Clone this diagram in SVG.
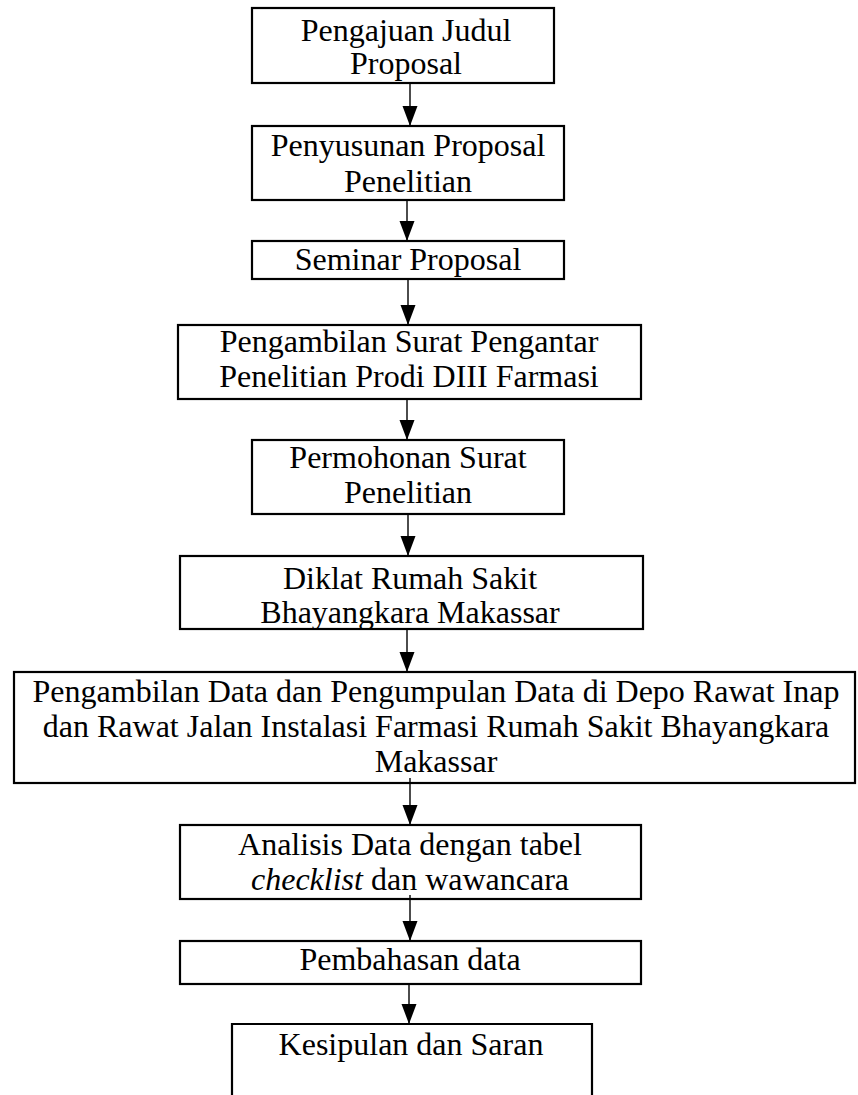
<svg xmlns="http://www.w3.org/2000/svg" width="858" height="1095" viewBox="0 0 858 1095">
<defs>
<style>
.box{fill:#fff;stroke:#000;stroke-width:2.2}
.t{font-family:"Liberation Serif","Times New Roman",serif;font-size:32px;fill:#000;text-anchor:middle}
.c{stroke:#000;stroke-width:1.4;fill:none;marker-end:url(#ah)}
</style>
<marker id="ah" markerUnits="userSpaceOnUse" markerWidth="20" markerHeight="16" refX="20" refY="7.5" orient="auto" viewBox="0 0 20 15">
<path d="M0,0 L20,7.5 L0,15 Z" fill="#000"/>
</marker>
</defs>
<rect width="858" height="1095" fill="#fff"/>
<g id="n1"><rect class="box" x="252" y="8" width="302" height="75"/><text class="t" x="406" y="41">Pengajuan Judul</text><text class="t" x="406" y="74">Proposal</text></g>
<g id="n2"><rect class="box" x="252" y="126" width="312" height="74"/><text class="t" x="408" y="156">Penyusunan Proposal</text><text class="t" x="408" y="192">Penelitian</text></g>
<g id="n3"><rect class="box" x="252" y="241" width="312" height="38"/><text class="t" x="408" y="270">Seminar Proposal</text></g>
<g id="n4"><rect class="box" x="178" y="325" width="463" height="74"/><text class="t" x="409" y="352">Pengambilan Surat Pengantar</text><text class="t" x="409" y="387">Penelitian Prodi DIII Farmasi</text></g>
<g id="n5"><rect class="box" x="252" y="440" width="312" height="74"/><text class="t" x="408" y="468">Permohonan Surat</text><text class="t" x="408" y="503">Penelitian</text></g>
<g id="n6"><rect class="box" x="180" y="556" width="463" height="73"/><text class="t" x="410" y="589">Diklat Rumah Sakit</text><text class="t" x="410" y="623">Bhayangkara Makassar</text></g>
<g id="n7"><rect class="box" x="14" y="672" width="841" height="111"/><text class="t" x="436" y="702">Pengambilan Data dan Pengumpulan Data di Depo Rawat Inap</text><text class="t" x="436" y="737">dan Rawat Jalan Instalasi Farmasi Rumah Sakit Bhayangkara</text><text class="t" x="436" y="772">Makassar</text></g>
<g id="n8"><rect class="box" x="180" y="825" width="461" height="74"/><text class="t" x="410" y="855">Analisis Data dengan tabel</text><text class="t" x="410" y="890"><tspan font-style="italic">checklist</tspan> dan wawancara</text></g>
<g id="n9"><rect class="box" x="180" y="941" width="461" height="43"/><text class="t" x="410" y="970">Pembahasan data</text></g>
<g id="n10"><path class="box" d="M232,1100 V1024 H592 V1100"/><text class="t" x="411" y="1055">Kesipulan dan Saran</text></g>
<g id="connectors">
<line class="c" x1="410" y1="83" x2="410" y2="126"/>
<line class="c" x1="407" y1="200" x2="407" y2="241"/>
<line class="c" x1="408" y1="279" x2="408" y2="325"/>
<line class="c" x1="407" y1="399" x2="407" y2="440"/>
<line class="c" x1="408" y1="514" x2="408" y2="556"/>
<line class="c" x1="407" y1="629" x2="407" y2="672"/>
<line class="c" x1="410" y1="778" x2="410" y2="825"/>
<line class="c" x1="410" y1="895" x2="410" y2="941"/>
<line class="c" x1="409" y1="984" x2="409" y2="1024"/>
</g>
</svg>
